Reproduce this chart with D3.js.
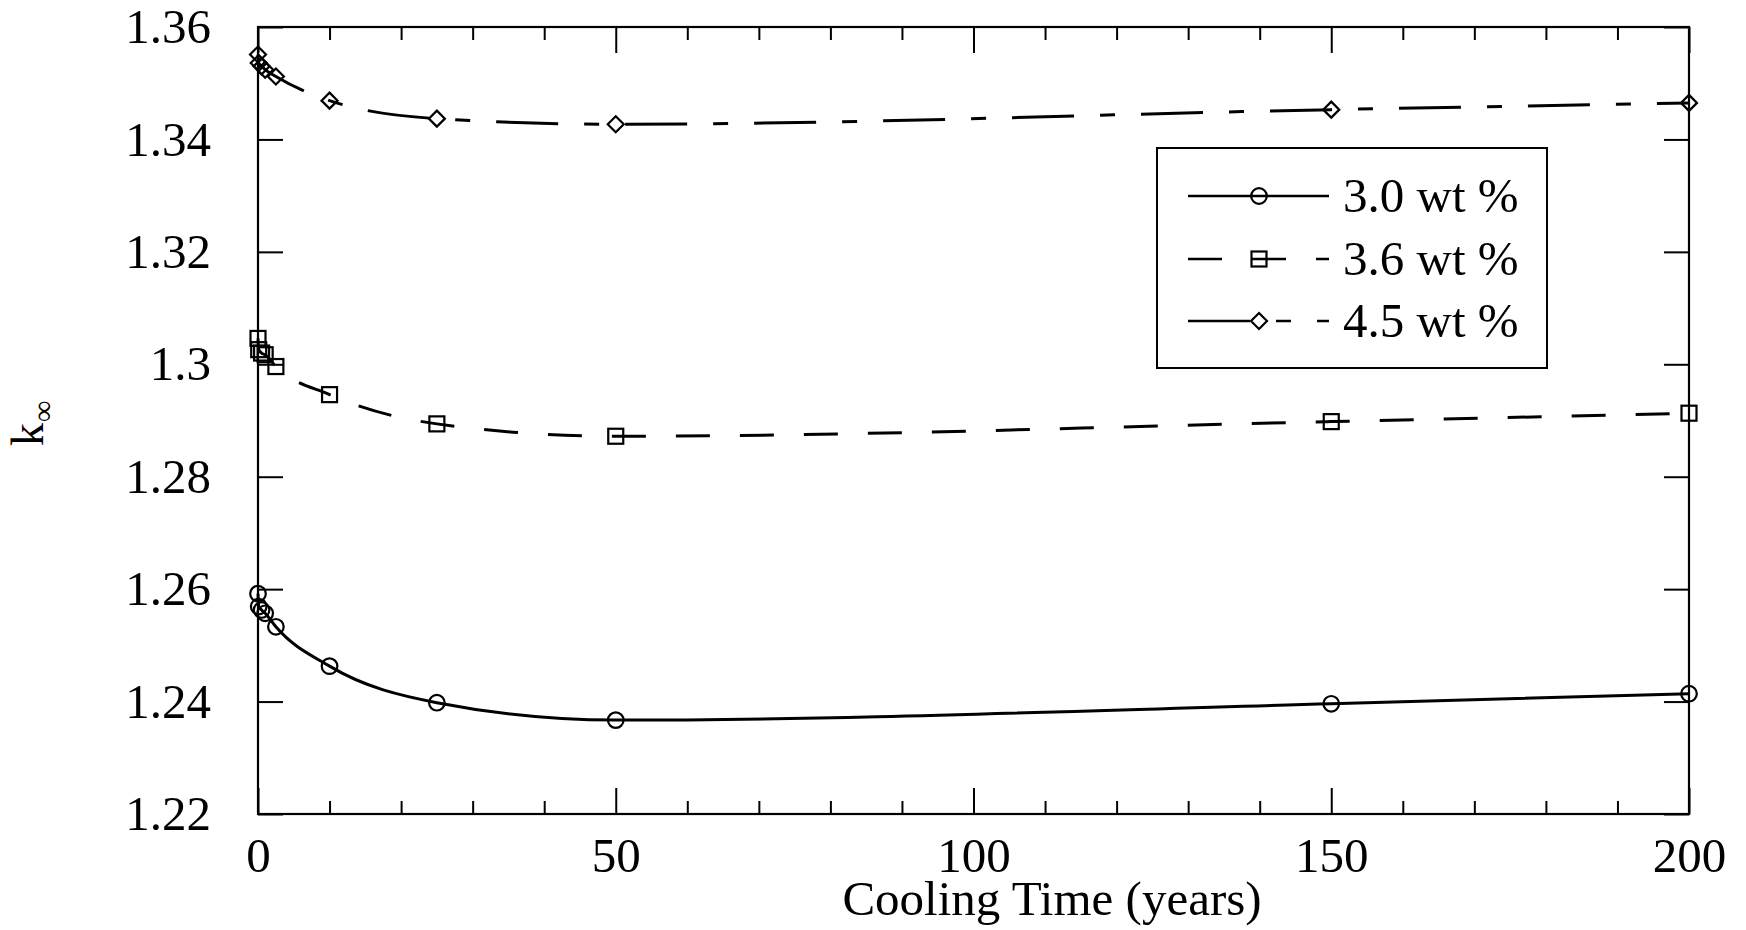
<!DOCTYPE html>
<html>
<head>
<meta charset="utf-8">
<script src="https://cdn.jsdelivr.net/npm/d3@7"></script>
<style>
  html, body { margin: 0; padding: 0; background: #fff; }
  svg { display: block; }
  text { font-family: "Liberation Serif", "Times New Roman", serif; fill: #000; }
</style>
</head>
<body>
<svg id="chart" width="1746" height="930"></svg>
<script>
// ---- data ----
const times = [0, 0.1, 0.5, 1, 2.5, 10, 25, 50, 150, 200];
const k30 = [1.2592, 1.2569, 1.2563, 1.2557, 1.2533, 1.2463, 1.2398, 1.2367, 1.2396, 1.2414];
const k36 = [1.3046, 1.3026, 1.3020, 1.3017, 1.2996, 1.2946, 1.2894, 1.2872, 1.2898, 1.2913];
const k45 = [1.3551, 1.3536, 1.3530, 1.3524, 1.3512, 1.3469, 1.3437, 1.3427, 1.3453, 1.3465];
const seriesNames = ["3.0 wt %", "3.6 wt %", "4.5 wt %"];
const xTickValues = [0, 50, 100, 150, 200];
const xTickLabels = ["0", "50", "100", "150", "200"];
const xMinorValues = [10, 20, 30, 40, 60, 70, 80, 90, 110, 120, 130, 140, 160, 170, 180, 190];
const yTickValues = [1.22, 1.24, 1.26, 1.28, 1.30, 1.32, 1.34, 1.36];
const yTickLabels = ["1.22", "1.24", "1.26", "1.28", "1.3", "1.32", "1.34", "1.36"];
const xTitle = "Cooling Time (years)";

// ---- layout ----
const L = 258, R = 1689, T = 27, B = 814;
const svg = d3.select("#chart");
const x = d3.scaleLinear().domain([0, 200]).range([L, R]);
const y = d3.scaleLinear().domain([1.22, 1.36]).range([B, T]);

const FS = 49;

// frame
svg.append("rect").attr("x", L).attr("y", T).attr("width", R - L).attr("height", B - T)
  .attr("fill", "none").attr("stroke", "#000").attr("stroke-width", 2.2);

function styleAxis(g, labels) {
  g.select(".domain").remove();
  g.selectAll(".tick line").attr("stroke", "#000").attr("stroke-width", 2);
  g.selectAll(".tick text").style("font-size", FS + "px")
    .style("font-family", "'Liberation Serif', serif").attr("fill", "#000");
  if (!labels) g.selectAll(".tick text").remove();
}

// bottom axis major
const xFmt = d => xTickLabels[xTickValues.indexOf(d)];
svg.append("g").attr("transform", `translate(0,${B})`)
  .call(d3.axisBottom(x).tickValues(xTickValues).tickFormat(xFmt).tickSize(-26).tickPadding(23))
  .call(g => styleAxis(g, true));
svg.append("g").attr("transform", `translate(0,${B})`)
  .call(d3.axisBottom(x).tickValues(xMinorValues).tickSize(-13))
  .call(g => styleAxis(g, false));
// top axis
svg.append("g").attr("transform", `translate(0,${T})`)
  .call(d3.axisTop(x).tickValues(xTickValues).tickSize(-26))
  .call(g => styleAxis(g, false));
svg.append("g").attr("transform", `translate(0,${T})`)
  .call(d3.axisTop(x).tickValues(xMinorValues).tickSize(-13))
  .call(g => styleAxis(g, false));
// left axis
const yFmt = d => yTickLabels[yTickValues.findIndex(v => Math.abs(v - d) < 1e-9)];
svg.append("g").attr("transform", `translate(${L},0)`)
  .call(d3.axisLeft(y).tickValues(yTickValues).tickFormat(yFmt).tickSize(-25).tickPadding(47))
  .call(g => styleAxis(g, true));
// right axis
svg.append("g").attr("transform", `translate(${R},0)`)
  .call(d3.axisRight(y).tickValues(yTickValues).tickSize(-25))
  .call(g => styleAxis(g, false));

// axis titles
svg.append("text").attr("x", 1052).attr("y", 915)
  .attr("text-anchor", "middle").style("font-size", FS + "px").text(xTitle);

const yl = svg.append("text").attr("transform", "translate(43,446) rotate(-90)")
  .attr("text-anchor", "start").style("font-size", "46px");
yl.append("tspan").text("k");
yl.append("tspan").style("font-size", "30px").attr("dy", 10).attr("dx", 1).text("\u221E");

// ---- series ----
const series = [
  { name: seriesNames[0], vals: k30, dash: null, marker: "circle" },
  { name: seriesNames[1], vals: k36, dash: "34,30", marker: "square" },
  { name: seriesNames[2], vals: k45, dash: "62,26,15,26", marker: "diamond" }
];

const line = d3.line().x(d => x(d[0])).y(d => y(d[1])).curve(d3.curveMonotoneX);

function drawMarker(g, type, cx, cy) {
  if (type === "circle") {
    g.append("circle").attr("cx", cx).attr("cy", cy).attr("r", 7.8)
      .attr("fill", "none").attr("stroke", "#000").attr("stroke-width", 2.2);
  } else if (type === "square") {
    g.append("rect").attr("x", cx - 7.5).attr("y", cy - 7.5).attr("width", 15).attr("height", 15)
      .attr("fill", "none").attr("stroke", "#000").attr("stroke-width", 2.2);
  } else {
    const s = 8;
    g.append("path").attr("d", `M${cx},${cy - s}L${cx + s},${cy}L${cx},${cy + s}L${cx - s},${cy}Z`)
      .attr("fill", "none").attr("stroke", "#000").attr("stroke-width", 2.2);
  }
}

series.forEach(s => {
  const pts = times.map((t, i) => [t, s.vals[i]]);
  const p = svg.append("path").datum(pts).attr("d", line)
    .attr("fill", "none").attr("stroke", "#000").attr("stroke-width", 3);
  if (s.dash) p.attr("stroke-dasharray", s.dash);
  const g = svg.append("g");
  pts.forEach(d => drawMarker(g, s.marker, x(d[0]), y(d[1])));
});

// ---- legend ----
const lg = svg.append("g");
lg.append("rect").attr("x", 1157).attr("y", 148).attr("width", 390).attr("height", 220)
  .attr("fill", "#fff").attr("stroke", "#000").attr("stroke-width", 2);
const rowY = [196, 259, 321];
series.forEach((s, i) => {
  const ly = rowY[i];
  const seg = lg.append("line").attr("x1", 1188).attr("x2", 1329).attr("y1", ly).attr("y2", ly)
    .attr("stroke", "#000").attr("stroke-width", 2.6);
  if (s.dash) seg.attr("stroke-dasharray", s.dash);
  drawMarker(lg, s.marker, 1259, ly);
  lg.append("text").attr("x", 1343).attr("y", ly + 16).style("font-size", FS + "px").text(s.name);
});
</script>
</body>
</html>
